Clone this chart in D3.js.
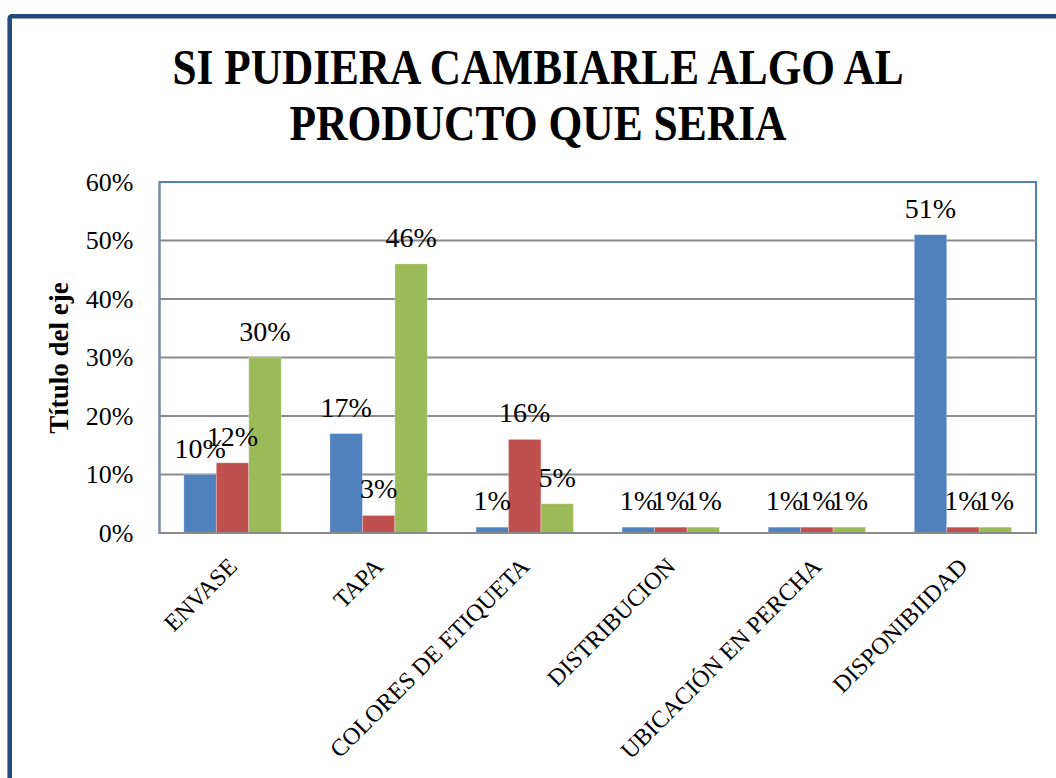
<!DOCTYPE html>
<html>
<head>
<meta charset="utf-8">
<script src="https://cdn.jsdelivr.net/npm/d3@7"></script>
<style>
  html, body { margin: 0; padding: 0; background: #fff; }
  svg { display: block; font-family: "Liberation Serif", "Times New Roman", serif; }
</style>
</head>
<body>
<svg id="chart" width="1056" height="778"></svg>
<script>
// chart data
const categories = ["ENVASE", "TAPA", "COLORES DE ETIQUETA", "DISTRIBUCION", "UBICACIÓN EN PERCHA", "DISPONIBIIDAD"];
const seriesNames = ["Serie1", "Serie2", "Serie3"];
const serie1 = [10, 17, 1, 1, 1, 51];
const serie2 = [12, 3, 16, 1, 1, 1];
const serie3 = [30, 46, 5, 1, 1, 1];
const seriesColors = ["#4F81BD", "#C0504D", "#9BBB59"];
const yTicks = [0, 10, 20, 30, 40, 50, 60];
const titleLines = ["SI PUDIERA CAMBIARLE ALGO AL", "PRODUCTO QUE SERIA"];
const yTitle = "Título del eje";

const series = [serie1, serie2, serie3];

const svg = d3.select("#chart");
const plot = { left: 159.5, right: 1036, top: 182, bottom: 533 };

// outer frame (runs off the right/bottom of the picture)
svg.append("rect")
    .attr("x", 9.7).attr("y", 16.3)
    .attr("width", 1200).attr("height", 900)
    .attr("rx", 2)
    .attr("fill", "none")
    .attr("stroke", "#24497B")
    .attr("stroke-width", 4.6);

// title
svg.append("text")
    .attr("x", 538).attr("y", 84)
    .attr("text-anchor", "middle")
    .attr("font-weight", "bold")
    .attr("font-size", 50)
    .attr("textLength", 731).attr("lengthAdjust", "spacingAndGlyphs")
    .text(titleLines[0]);
svg.append("text")
    .attr("x", 538).attr("y", 140)
    .attr("text-anchor", "middle")
    .attr("font-weight", "bold")
    .attr("font-size", 50)
    .attr("textLength", 497).attr("lengthAdjust", "spacingAndGlyphs")
    .text(titleLines[1]);

// scales
const x0 = d3.scaleBand()
    .domain(categories)
    .range([plot.left, plot.right])
    .paddingInner(1 / 3)
    .paddingOuter(1 / 6);
const x1 = d3.scaleBand()
    .domain(seriesNames)
    .range([0, x0.bandwidth()]);
const y = d3.scaleLinear()
    .domain([0, 60])
    .range([plot.bottom, plot.top]);

// plot area border (top/right blue)
svg.append("rect")
    .attr("x", plot.left).attr("y", plot.top)
    .attr("width", plot.right - plot.left).attr("height", plot.bottom - plot.top)
    .attr("fill", "none")
    .attr("stroke", "#4F81BD")
    .attr("stroke-width", 2);

// gridlines
svg.append("g")
    .selectAll("line")
    .data(yTicks.filter(d => d > 0 && d < 60))
    .join("line")
    .attr("x1", plot.left).attr("x2", plot.right)
    .attr("y1", d => y(d)).attr("y2", d => y(d))
    .attr("stroke", "#8A8A8A")
    .attr("stroke-width", 2);

// bars
const groups = svg.append("g")
    .selectAll("g")
    .data(categories)
    .join("g")
    .attr("transform", d => `translate(${x0(d)},0)`);

groups.selectAll("rect")
    .data((c, i) => series.map((s, k) => ({ key: seriesNames[k], value: s[i], color: seriesColors[k] })))
    .join("rect")
    .attr("x", d => x1(d.key))
    .attr("y", d => y(d.value))
    .attr("width", x1.bandwidth())
    .attr("height", d => y(0) - y(d.value))
    .attr("fill", d => d.color)
    .attr("stroke", "rgba(255,255,255,0.35)")
    .attr("stroke-width", 0.8);

// data labels
groups.selectAll("text")
    .data((c, i) => series.map((s, k) => ({ key: seriesNames[k], value: s[i] })))
    .join("text")
    .attr("x", d => x1(d.key) + x1.bandwidth() / 2)
    .attr("y", d => y(d.value) - 17)
    .attr("text-anchor", "middle")
    .attr("font-size", 28)
    .attr("fill", "#000")
    .text(d => d.value + "%");

// y axis
const yAxis = svg.append("g")
    .attr("transform", `translate(${plot.left},0)`)
    .call(d3.axisLeft(y).tickValues(yTicks).tickFormat(d => d + "%").tickSize(0).tickPadding(26));
yAxis.select(".domain").remove();
yAxis.selectAll("text")
    .attr("font-family", "Liberation Serif, serif")
    .attr("font-size", 26)
    .attr("fill", "#000");

// axis lines (left and bottom, gray)
svg.append("line")
    .attr("x1", plot.left).attr("x2", plot.left)
    .attr("y1", plot.top).attr("y2", plot.bottom)
    .attr("stroke", "#8A8A8A").attr("stroke-width", 2);
svg.append("line")
    .attr("x1", plot.left).attr("x2", plot.right)
    .attr("y1", plot.bottom).attr("y2", plot.bottom)
    .attr("stroke", "#8A8A8A").attr("stroke-width", 2);

// category labels, rotated
svg.append("g")
    .selectAll("text")
    .data(categories)
    .join("text")
    .attr("transform", d => `translate(${x0(d) + x0.bandwidth() / 2 + 6},568) rotate(-45)`)
    .attr("text-anchor", "end")
    .attr("font-size", 24)
    .attr("fill", "#000")
    .text(d => d);

// y axis title
svg.append("text")
    .attr("transform", "translate(68,358) rotate(-90)")
    .attr("text-anchor", "middle")
    .attr("font-weight", "bold")
    .attr("font-size", 27)
    .text(yTitle);
</script>
</body>
</html>
